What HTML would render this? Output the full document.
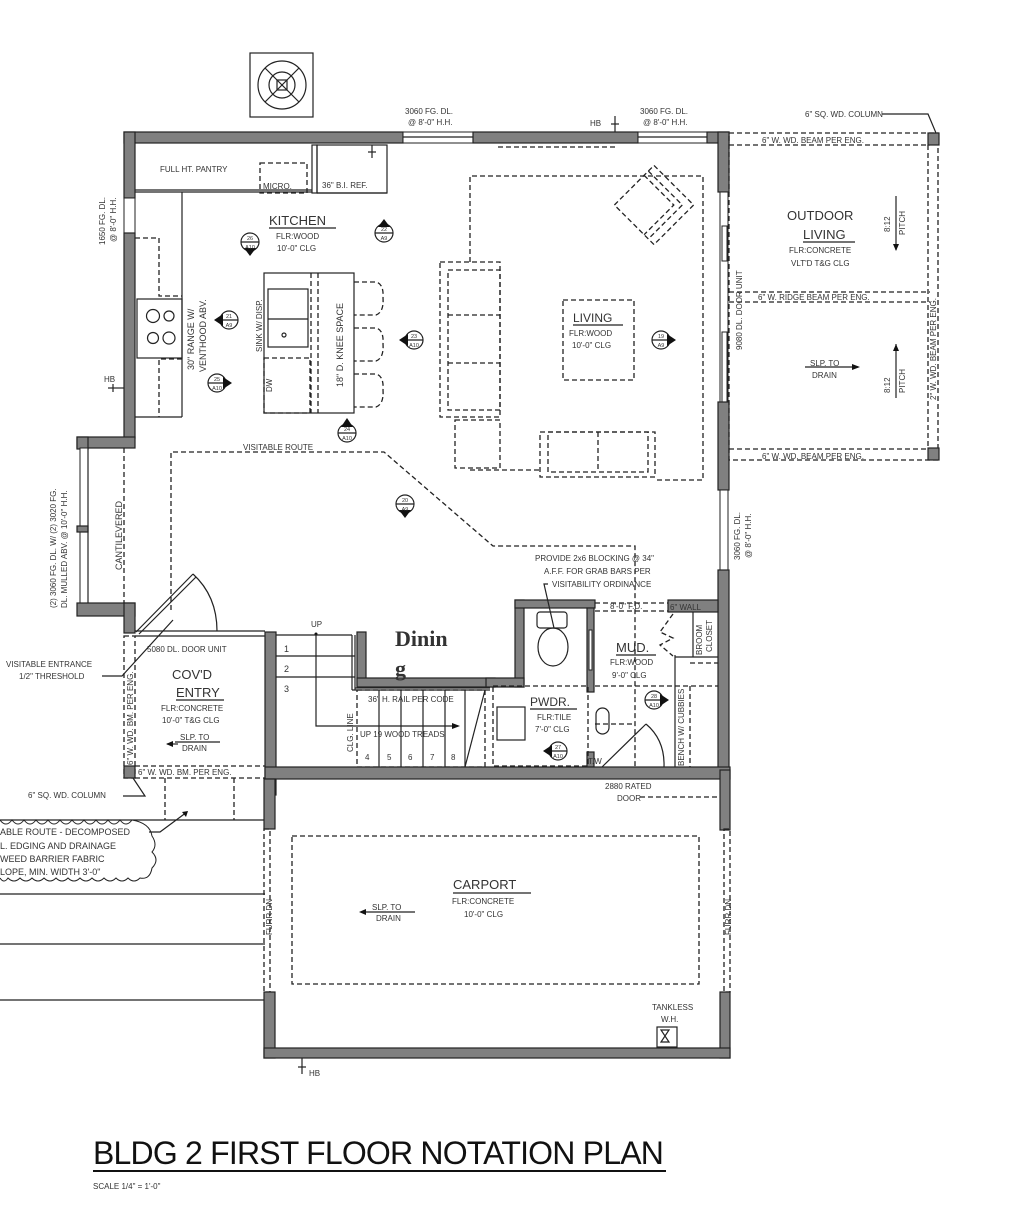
<!DOCTYPE html>
<html><head><meta charset="utf-8"><style>
html,body{margin:0;padding:0;background:#fff;}
svg{display:block;}
text{font-family:"Liberation Sans",sans-serif;fill:#333;}
.w{fill:#808080;stroke:#222;stroke-width:1.2;}
.l{fill:none;stroke:#222;stroke-width:1.2;}
.d{fill:none;stroke:#222;stroke-width:1.3;stroke-dasharray:5,3;}
.s{font-size:8px;}
.m{font-size:9px;}
.r{font-size:13px;}
</style></head><body>
<svg width="1024" height="1207" viewBox="0 0 1024 1207" xmlns="http://www.w3.org/2000/svg">
<!-- north symbol -->
<rect x="250" y="53" width="63" height="64" class="l" stroke-width="1.5"/>
<circle cx="282" cy="85" r="24" class="l" stroke-width="1.8"/>
<circle cx="282" cy="85" r="13" class="l" stroke-width="1.8"/>
<rect x="277" y="80" width="10" height="10" class="l" stroke-width="1.5"/>
<line x1="265" y1="68" x2="299" y2="102" class="l" stroke-width="1.8"/>
<line x1="299" y1="68" x2="265" y2="102" class="l" stroke-width="1.8"/>

<!-- top wall -->
<rect x="124" y="132" width="279" height="11" class="w"/>
<rect x="403" y="132" width="70" height="11" fill="#fff" stroke="#222" stroke-width="1"/>
<line x1="403" y1="137" x2="473" y2="137" class="l" stroke-width="0.8"/>
<rect x="473" y="132" width="165" height="11" class="w"/>
<rect x="638" y="132" width="69" height="11" fill="#fff" stroke="#222" stroke-width="1"/>
<line x1="638" y1="137" x2="707" y2="137" class="l" stroke-width="0.8"/>
<rect x="707" y="132" width="22" height="11" class="w"/>
<!-- left wall -->
<rect x="124" y="132" width="11" height="66" class="w"/>
<rect x="124" y="198" width="11" height="35" fill="#fff" stroke="#222"/>
<rect x="124" y="233" width="11" height="205" class="w"/>
<!-- bay -->
<rect x="77" y="437" width="58" height="11" class="w"/>
<rect x="77" y="437" width="11" height="12" class="w"/>
<rect x="80" y="448" width="8" height="157" fill="#fff" stroke="#222"/>
<rect x="77" y="526" width="11" height="6" class="w"/>
<rect x="77" y="603" width="58" height="13" class="w"/>
<rect x="124" y="603" width="11" height="30" class="w"/>
<line x1="124" y1="448" x2="124" y2="603" class="d"/>
<line x1="88" y1="448" x2="88" y2="603" class="l"/>
<text class="m" transform="translate(122,570) rotate(-90)">CANTILEVERED</text>
<text class="s" transform="translate(56,608) rotate(-90)">(2) 3060 FG. DL. W/ (2) 3020 FG.</text>
<text class="s" transform="translate(67,608) rotate(-90)">DL. MULLED ABV. @ 10'-0" H.H.</text>
<text class="s" transform="translate(105,245) rotate(-90)">1650 FG. DL.</text>
<text class="s" transform="translate(116,242) rotate(-90)">@ 8'-0" H.H.</text>
<text class="s" x="104" y="382">HB</text>
<line x1="108" y1="388" x2="124" y2="388" class="l"/><line x1="113" y1="384" x2="113" y2="392" class="l"/>

<!-- top labels -->
<text class="s" x="405" y="114">3060 FG. DL.</text>
<text class="s" x="408" y="125">@ 8'-0" H.H.</text>
<text class="s" x="640" y="114">3060 FG. DL.</text>
<text class="s" x="643" y="125">@ 8'-0" H.H.</text>
<text class="s" x="590" y="126">HB</text>
<line x1="615" y1="116" x2="615" y2="132" class="l"/><line x1="611" y1="124" x2="619" y2="124" class="l"/>
<line x1="498" y1="147" x2="615" y2="147" class="d"/>

<!-- kitchen pantry -->
<line x1="135" y1="190" x2="312" y2="190" class="l"/>
<line x1="135" y1="192" x2="312" y2="192" class="l"/>
<text class="s" x="160" y="172">FULL HT. PANTRY</text>
<rect x="260" y="163" width="47" height="30" class="d"/>
<text class="s" x="263" y="189">MICRO.</text>
<rect x="312" y="145" width="5" height="48" class="l"/>
<rect x="317" y="145" width="70" height="48" class="l"/>
<line x1="317" y1="193" x2="387" y2="193" class="l" stroke-width="2"/>
<text class="s" x="322" y="188">36" B.I. REF.</text>
<line x1="372" y1="145" x2="372" y2="158" class="l"/><line x1="368" y1="152" x2="376" y2="152" class="l"/>
<!-- left counter -->
<line x1="182" y1="192" x2="182" y2="417" class="l"/>
<line x1="135" y1="417" x2="182" y2="417" class="l"/>
<polyline points="135,238 159,238 159,296 182,296" class="d"/>
<polyline points="182,359 159,359 159,417" class="d"/>
<rect x="137" y="299" width="45" height="59" class="l" stroke-width="1.6"/>
<circle cx="153" cy="316" r="6.5" class="l" stroke-width="1.8"/><circle cx="169" cy="316" r="5" class="l" stroke-width="1.8"/>
<circle cx="153" cy="338" r="5.5" class="l" stroke-width="1.8"/><circle cx="169" cy="338" r="6" class="l" stroke-width="1.8"/>
<text class="m" transform="translate(194,370) rotate(-90)">30" RANGE W/</text>
<text class="m" transform="translate(206,372) rotate(-90)">VENTHOOD ABV.</text>
<!-- kitchen title -->
<text x="269" y="225" font-size="13">KITCHEN</text>
<line x1="269" y1="228" x2="336" y2="228" class="l"/>
<text class="s" x="276" y="239">FLR:WOOD</text>
<text class="s" x="277" y="251">10'-0" CLG</text>
<!-- island -->
<rect x="264" y="273" width="90" height="140" class="l" stroke-width="1.4"/>
<line x1="311" y1="273" x2="311" y2="413" class="d"/>
<line x1="318" y1="273" x2="318" y2="413" class="d"/>
<rect x="268" y="289" width="40" height="58" class="l"/>
<line x1="268" y1="319" x2="308" y2="319" class="l"/>
<circle cx="284" cy="335" r="2" class="l"/>
<rect x="264" y="358" width="46" height="55" class="d"/>
<text class="s" transform="translate(272,392) rotate(-90)">DW</text>
<text class="s" transform="translate(262,352) rotate(-90)">SINK W/ DISP.</text>
<text class="m" transform="translate(343,387) rotate(-90)">18" D. KNEE SPACE</text>
<path d="M354,282 H376 Q384,284 383,298 Q384,312 376,315 H354" class="d"/>
<path d="M354,328 H376 Q384,330 383,344 Q384,358 376,361 H354" class="d"/>
<path d="M354,374 H376 Q384,376 383,390 Q384,404 376,407 H354" class="d"/>

<!-- section markers -->
<g font-size="5.5" text-anchor="middle">
<circle cx="250" cy="242" r="9" class="l"/><line x1="241" y1="242" x2="259" y2="242" class="l"/><path d="M244,248 L256,248 L250,256Z" fill="#111"/><text x="250" y="240">26</text><text x="250" y="249">A10</text>
<circle cx="384" cy="233" r="9" class="l"/><line x1="375" y1="233" x2="393" y2="233" class="l"/><path d="M378,227 L390,227 L384,219Z" fill="#111"/><text x="384" y="231">22</text><text x="384" y="240">A9</text>
<circle cx="229" cy="320" r="9" class="l"/><line x1="220" y1="320" x2="238" y2="320" class="l"/><path d="M223,314 L223,326 L214,320Z" fill="#111"/><text x="229" y="318">21</text><text x="229" y="327">A9</text>
<circle cx="217" cy="383" r="9" class="l"/><line x1="208" y1="383" x2="226" y2="383" class="l"/><path d="M223,377 L223,389 L232,383Z" fill="#111"/><text x="217" y="381">25</text><text x="217" y="390">A10</text>
<circle cx="414" cy="340" r="9" class="l"/><line x1="405" y1="340" x2="423" y2="340" class="l"/><path d="M408,334 L408,346 L399,340Z" fill="#111"/><text x="414" y="338">23</text><text x="414" y="347">A10</text>
<circle cx="347" cy="433" r="9" class="l"/><line x1="338" y1="433" x2="356" y2="433" class="l"/><path d="M341,427 L353,427 L347,418Z" fill="#111"/><text x="347" y="431">24</text><text x="347" y="440">A10</text>
<circle cx="661" cy="340" r="9" class="l"/><line x1="652" y1="340" x2="670" y2="340" class="l"/><path d="M667,334 L667,346 L676,340Z" fill="#111"/><text x="661" y="338">19</text><text x="661" y="347">A9</text>
<circle cx="405" cy="504" r="9" class="l"/><line x1="396" y1="504" x2="414" y2="504" class="l"/><path d="M399,510 L411,510 L405,518Z" fill="#111"/><text x="405" y="502">20</text><text x="405" y="511">A9</text>
<circle cx="654" cy="700" r="9" class="l"/><line x1="645" y1="700" x2="663" y2="700" class="l"/><path d="M660,694 L660,706 L669,700Z" fill="#111"/><text x="654" y="698">28</text><text x="654" y="707">A10</text>
<circle cx="558" cy="751" r="9" class="l"/><line x1="549" y1="751" x2="567" y2="751" class="l"/><path d="M552,745 L552,757 L543,751Z" fill="#111"/><text x="558" y="749">27</text><text x="558" y="758">A10</text>
</g>

<!-- living furniture -->
<polyline points="470,262 470,176 703,176 703,480 655,480" class="d"/>
<line x1="470" y1="470" x2="540" y2="470" class="d"/>
<rect x="440" y="262" width="60" height="155" class="d"/>
<rect x="448" y="270" width="52" height="140" class="d"/>
<line x1="448" y1="315" x2="500" y2="315" class="d"/>
<line x1="448" y1="363" x2="500" y2="363" class="d"/>
<rect x="455" y="420" width="45" height="48" class="d"/>
<rect x="540" y="432" width="115" height="45" class="d"/>
<rect x="548" y="432" width="100" height="40" class="d"/>
<line x1="598" y1="432" x2="598" y2="472" class="d"/>
<g transform="translate(654,205) rotate(45)">
<rect x="-28" y="-28" width="56" height="56" class="d"/>
<polyline points="-28,-20 20,-20 20,28" class="d"/>
<polyline points="-28,-14 14,-14 14,28" class="d"/>
</g>
<rect x="563" y="300" width="71" height="80" class="d"/>
<text x="573" y="322" font-size="12">LIVING</text>
<line x1="573" y1="325" x2="623" y2="325" class="l"/>
<text class="s" x="569" y="336">FLR:WOOD</text>
<text class="s" x="572" y="348">10'-0" CLG</text>

<!-- main right wall -->
<rect x="718" y="132" width="11" height="60" class="w"/>
<rect x="720" y="192" width="8" height="210" fill="#fff" stroke="#222"/>
<rect x="722" y="226" width="5" height="35" fill="#fff" stroke="#222"/>
<rect x="722" y="332" width="5" height="70" fill="#fff" stroke="#222"/>
<rect x="718" y="402" width="11" height="88" class="w"/>
<rect x="720" y="490" width="8" height="80" fill="#fff" stroke="#222"/>
<rect x="718" y="570" width="11" height="200" class="w"/>
<text class="s" transform="translate(742,350) rotate(-90)">9080 DL. DOOR UNIT</text>
<text class="s" transform="translate(740,560) rotate(-90)">3060 FG. DL.</text>
<text class="s" transform="translate(751,558) rotate(-90)">@ 8'-0" H.H.</text>

<!-- outdoor living -->
<rect x="729" y="133" width="209" height="327" class="d"/>
<line x1="729" y1="145" x2="930" y2="145" class="d"/>
<line x1="729" y1="292" x2="930" y2="292" class="d"/>
<line x1="729" y1="302" x2="930" y2="302" class="d"/>
<line x1="729" y1="449" x2="930" y2="449" class="d"/>
<line x1="928" y1="145" x2="928" y2="449" class="d"/>
<rect x="928" y="133" width="11" height="12" class="w"/>
<rect x="928" y="448" width="11" height="12" class="w"/>
<text class="s" x="762" y="143">6" W. WD. BEAM PER ENG.</text>
<text class="s" x="758" y="300">6" W. RIDGE BEAM PER ENG.</text>
<text class="s" x="762" y="459">6" W. WD. BEAM PER ENG.</text>
<text class="s" transform="translate(936,400) rotate(-90)">2" W. WD. BEAM PER ENG.</text>
<text class="s" x="805" y="117">6" SQ. WD. COLUMN</text>
<polyline points="882,114 928,114 936,133" class="l"/>
<text x="787" y="220" font-size="13">OUTDOOR</text>
<text x="803" y="239" font-size="13">LIVING</text>
<line x1="803" y1="242" x2="855" y2="242" class="l"/>
<text class="s" x="789" y="253">FLR:CONCRETE</text>
<text class="s" x="791" y="266">VLT'D T&amp;G CLG</text>
<line x1="896" y1="196" x2="896" y2="250" class="l"/><path d="M893,244 L899,244 L896,251Z" fill="#111"/>
<text class="s" transform="translate(890,232) rotate(-90)">8:12</text>
<text class="s" transform="translate(905,235) rotate(-90)">PITCH</text>
<line x1="896" y1="344" x2="896" y2="398" class="l"/><path d="M893,351 L899,351 L896,344Z" fill="#111"/>
<text class="s" transform="translate(890,393) rotate(-90)">8:12</text>
<text class="s" transform="translate(905,393) rotate(-90)">PITCH</text>
<text class="s" x="810" y="366">SLP. TO</text>
<text class="s" x="812" y="378">DRAIN</text>
<line x1="805" y1="367" x2="858" y2="367" class="l"/><path d="M852,364 L860,367 L852,370Z" fill="#111"/>

<!-- visitable route -->
<polyline points="171,610 171,452 384,452 493,546 635,546 635,770" class="d"/>
<text class="s" x="243" y="450">VISITABLE ROUTE</text>

<!-- entry door -->
<line x1="135" y1="631" x2="265" y2="631" class="l"/>
<line x1="135" y1="636" x2="265" y2="636" class="l"/>
<line x1="136" y1="632" x2="193" y2="574" class="l" stroke-width="1.4"/>
<line x1="139" y1="634" x2="196" y2="577" class="l" stroke-width="1"/>
<path d="M193,574 Q217,596 217,631" class="l"/>
<!-- entry -->
<rect x="124" y="636" width="11" height="142" class="d"/>
<rect x="124" y="766" width="11" height="12" class="w"/>
<line x1="135" y1="766" x2="265" y2="766" class="d"/>
<line x1="135" y1="778" x2="265" y2="778" class="d"/>
<text class="s" x="138" y="775">6" W. WD. BM. PER ENG.</text>
<text class="s" transform="translate(133,765) rotate(-90)">6" W. WD. BM. PER ENG.</text>
<text class="s" x="147" y="652">5080 DL. DOOR UNIT</text>
<text x="172" y="679" font-size="13">COV'D</text>
<text x="176" y="697" font-size="13">ENTRY</text>
<line x1="176" y1="700" x2="224" y2="700" class="l"/>
<text class="s" x="161" y="711">FLR:CONCRETE</text>
<text class="s" x="162" y="723">10'-0" T&amp;G CLG</text>
<text class="s" x="180" y="740">SLP. TO</text>
<text class="s" x="182" y="751">DRAIN</text>
<line x1="175" y1="742" x2="220" y2="742" class="l"/>
<line x1="167" y1="744" x2="178" y2="744" class="l"/><path d="M173,741 L166,744 L173,747Z" fill="#111"/>
<text class="s" x="6" y="667">VISITABLE ENTRANCE</text>
<text class="s" x="19" y="679">1/2" THRESHOLD</text>
<polyline points="102,676 122,676 173,620" class="l"/>
<text class="s" x="28" y="798">6" SQ. WD. COLUMN</text>
<polyline points="123,796 145,796 133,778" class="l"/>
<line x1="165" y1="778" x2="165" y2="820" class="d"/>
<line x1="234" y1="778" x2="234" y2="820" class="d"/>
<line x1="0" y1="820" x2="265" y2="820" class="l"/>
<line x1="0" y1="894" x2="265" y2="894" class="l"/>
<line x1="0" y1="944" x2="265" y2="944" class="l"/>
<line x1="0" y1="1000" x2="265" y2="1000" class="l"/>
<path d="M0,820 Q6,828 12,820 Q18,828 24,820 Q30,828 36,820 Q42,828 48,820 Q54,828 60,820 Q66,828 72,820 Q78,828 84,820 Q90,828 96,820 Q102,828 108,820 Q114,828 120,820 Q126,828 132,820 Q150,823 152,836 Q158,845 152,852 Q160,860 152,868 Q150,880 140,878 Q134,884 128,878 Q122,884 116,878 Q110,884 104,878 Q98,884 92,878 Q86,884 80,878 Q74,884 68,878 Q62,884 56,878 Q50,884 44,878 Q38,884 32,878 Q26,884 20,878 Q14,884 8,878 Q4,884 0,878" fill="#fff" stroke="#222" stroke-width="1"/>
<text class="m" x="0" y="835">ABLE ROUTE - DECOMPOSED</text>
<text class="m" x="0" y="849">L. EDGING AND DRAINAGE</text>
<text class="m" x="0" y="862">WEED BARRIER FABRIC</text>
<text class="m" x="0" y="875">LOPE, MIN. WIDTH 3'-0"</text>
<polyline points="149,832 160,832 187,812" class="l"/><path d="M182,812 L188,811 L186,817Z" fill="#111"/>

<!-- stairs -->
<rect x="265" y="632" width="11" height="163" class="w"/>
<rect x="357" y="632" width="9" height="54" class="w"/>
<rect x="357" y="678" width="138" height="9" class="w"/>
<rect x="515" y="600" width="9" height="87" class="w"/>
<rect x="486" y="678" width="38" height="9" class="w"/>
<line x1="276" y1="635" x2="352" y2="635" class="l"/>
<line x1="276" y1="656" x2="355" y2="656" class="l"/>
<line x1="276" y1="677" x2="355" y2="677" class="l"/>
<line x1="352" y1="635" x2="352" y2="690" class="l"/>
<line x1="355" y1="635" x2="355" y2="690" class="l"/>
<line x1="352" y1="690" x2="490" y2="690" class="l"/>
<line x1="355" y1="688" x2="490" y2="688" class="l"/>
<text class="m" x="284" y="652">1</text><text class="m" x="284" y="672">2</text><text class="m" x="284" y="692">3</text>
<text class="s" x="311" y="627">UP</text>
<circle cx="316" cy="634" r="1.5" fill="#111"/>
<polyline points="316,634 316,726 458,726" class="l"/><path d="M452,723 L460,726 L452,729Z" fill="#111"/>
<rect x="357" y="690" width="128" height="77" class="d"/>
<g class="l">
<line x1="379" y1="690" x2="379" y2="767"/><line x1="401" y1="690" x2="401" y2="767"/><line x1="423" y1="690" x2="423" y2="767"/><line x1="445" y1="690" x2="445" y2="767"/><line x1="465" y1="690" x2="465" y2="767"/>
<line x1="485" y1="690" x2="465" y2="767"/>
</g>
<text class="s" x="368" y="702">36" H. RAIL PER CODE</text>
<text class="s" x="360" y="737">UP 19 WOOD TREADS</text>
<text class="s" x="365" y="760">4</text><text class="s" x="387" y="760">5</text><text class="s" x="408" y="760">6</text><text class="s" x="430" y="760">7</text><text class="s" x="451" y="760">8</text>
<text class="s" transform="translate(353,752) rotate(-90)">CLG. LINE</text>
<text x="395" y="646" font-family="Liberation Serif" font-weight="bold" font-size="22" style="font-family:'Liberation Serif',serif">Dinin</text>
<text x="395" y="676" font-family="Liberation Serif" font-weight="bold" font-size="22" style="font-family:'Liberation Serif',serif">g</text>

<!-- powder & mud -->
<rect x="515" y="600" width="80" height="8" class="w"/>
<rect x="668" y="600" width="50" height="12" class="w"/>
<line x1="595" y1="603" x2="668" y2="603" class="d"/>
<line x1="595" y1="611" x2="668" y2="611" class="d"/>
<text class="s" x="610" y="609">8'-0" F.D.</text>
<text class="s" x="670" y="610">6" WALL</text>
<rect x="587" y="608" width="7" height="84" class="w"/>
<rect x="589" y="630" width="3" height="40" fill="#fff" stroke="#222"/>
<rect x="587" y="752" width="7" height="15" class="w"/>
<rect x="537" y="612" width="30" height="16" rx="3" class="l"/>
<ellipse cx="553" cy="647" rx="15" ry="19" class="l"/>
<text class="s" x="535" y="561">PROVIDE 2x6 BLOCKING @ 34"</text>
<text class="s" x="544" y="574">A.F.F. FOR GRAB BARS PER</text>
<text class="s" x="552" y="587">VISITABILITY ORDINANCE</text>
<polyline points="548,584 544,584 554,628" class="l"/>
<rect x="493" y="686" width="95" height="80" class="d"/>
<rect x="497" y="707" width="28" height="33" class="l"/>
<text x="530" y="706" font-size="12">PWDR.</text>
<line x1="530" y1="709" x2="577" y2="709" class="l"/>
<text class="s" x="537" y="720">FLR:TILE</text>
<text class="s" x="535" y="732">7'-0" CLG</text>
<rect x="596" y="708" width="13" height="26" rx="6.5" class="l"/>
<text class="s" x="588" y="764">T.W</text>
<line x1="595" y1="686" x2="718" y2="686" class="d"/>
<line x1="595" y1="724" x2="635" y2="724" class="d"/>
<line x1="690" y1="663" x2="718" y2="663" class="d"/>
<line x1="690" y1="686" x2="690" y2="767" class="d"/>
<line x1="675" y1="655" x2="675" y2="767" class="l"/>
<line x1="675" y1="657" x2="718" y2="657" class="l"/>
<line x1="693" y1="612" x2="693" y2="657" class="l"/>
<polyline points="673,614 660,632 673,638 660,645 673,656" class="d"/>
<text class="s" transform="translate(702,655) rotate(-90)">BROOM</text>
<text class="s" transform="translate(712,652) rotate(-90)">CLOSET</text>
<text class="s" transform="translate(684,766) rotate(-90)">BENCH W/ CUBBIES</text>
<text x="616" y="652" font-size="13">MUD.</text>
<line x1="616" y1="655" x2="656" y2="655" class="l"/>
<text class="s" x="610" y="665">FLR:WOOD</text>
<text class="s" x="612" y="678">9'-0" CLG</text>
<line x1="602" y1="767" x2="646" y2="724" class="l" stroke-width="1.4"/>
<path d="M646,724 Q665,740 664,767" class="l"/>
<text class="s" x="605" y="789">2880 RATED</text>
<text class="s" x="617" y="801">DOOR</text>
<line x1="640" y1="797" x2="718" y2="797" class="d"/>

<!-- bottom wall of house / carport -->
<rect x="265" y="767" width="465" height="12" class="w"/>
<rect x="264" y="779" width="11" height="50" class="w"/>
<rect x="264" y="829" width="6" height="163" class="d"/>
<rect x="264" y="992" width="11" height="66" class="w"/>
<rect x="720" y="770" width="10" height="60" class="w"/>
<rect x="724" y="829" width="6" height="163" class="d"/>
<rect x="720" y="992" width="10" height="66" class="w"/>
<rect x="264" y="1048" width="466" height="10" class="w"/>
<text class="s" transform="translate(272,935) rotate(-90)">FURR DN</text>
<text class="s" transform="translate(731,935) rotate(-90)">FURR DN</text>
<rect x="292" y="836" width="407" height="148" class="d"/>
<text x="453" y="889" font-size="13">CARPORT</text>
<line x1="453" y1="893" x2="531" y2="893" class="l"/>
<text class="s" x="452" y="904">FLR:CONCRETE</text>
<text class="s" x="464" y="917">10'-0" CLG</text>
<text class="s" x="372" y="910">SLP. TO</text>
<text class="s" x="376" y="921">DRAIN</text>
<line x1="362" y1="912" x2="415" y2="912" class="l"/><path d="M366,909 L359,912 L366,915Z" fill="#111"/>
<text class="s" x="652" y="1010">TANKLESS</text>
<text class="s" x="661" y="1022">W.H.</text>
<rect x="657" y="1027" width="20" height="20" class="l"/>
<path d="M661,1030 L669,1030 L661,1042 L669,1042Z" class="l"/>
<line x1="302" y1="1058" x2="302" y2="1074" class="l"/><line x1="298" y1="1067" x2="306" y2="1067" class="l"/>
<text class="s" x="309" y="1076">HB</text>

<!-- title -->
<text x="93" y="1164" font-size="32" letter-spacing="-0.8" style="fill:#111">BLDG 2 FIRST FLOOR NOTATION PLAN</text>
<line x1="93" y1="1171" x2="666" y2="1171" stroke="#111" stroke-width="2"/>
<text x="93" y="1189" font-size="8">SCALE 1/4" = 1'-0"</text>
</svg>
</body></html>
